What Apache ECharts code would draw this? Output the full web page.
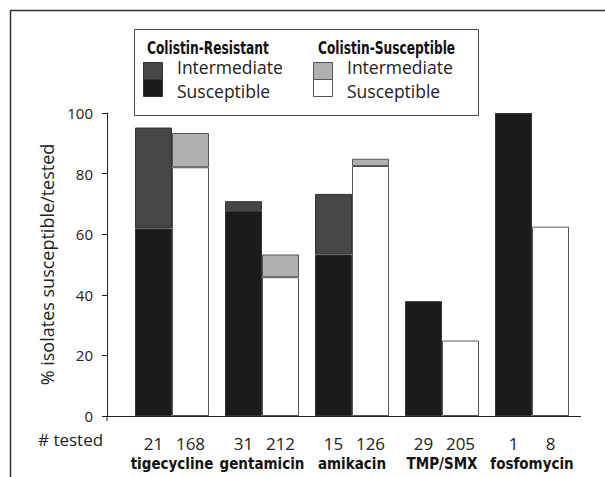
<!DOCTYPE html>
<html>
<head>
<meta charset="utf-8">
<script src="https://cdn.jsdelivr.net/npm/echarts@6/dist/echarts.min.js"></script>
<style>
html,body{margin:0;padding:0;background:#fff;}
#chart{width:605px;height:477px;}
</style>
</head>
<body>
<div id="chart"></div>
<script>
const categories = ['tigecycline', 'gentamicin', 'amikacin', 'TMP/SMX', 'fosfomycin'];
const testedResistant = [21, 31, 15, 29, 1];
const testedSusceptible = [168, 212, 126, 205, 8];
const crSusceptible = [61.9, 67.7, 53.3, 37.9, 100];
const crIntermediate = [33.3, 3.2, 20.0, 0, 0];
const csSusceptible = [82.1, 45.8, 82.5, 24.9, 62.5];
const csIntermediate = [11.3, 7.5, 2.4, 0, 0];
const yTicks = [0, 20, 40, 60, 80, 100];

const REG = "'Open Sans', 'Noto Sans', sans-serif";
const COND = "'Liberation Sans Narrow', 'DejaVu Sans Condensed', 'Open Sans', sans-serif";

const C_CR_S = '#1b1b1b', C_CR_I = '#464646', C_CS_I = '#b0b0b0', C_CS_S = '#ffffff';

const chart = echarts.init(document.getElementById('chart'), null, {renderer: 'svg'});

function barSeries(name, stack, data, color, border) {
  return {
    name: name, type: 'bar', stack: stack, data: data.map(v => v === 0 ? null : v),
    barWidth: 37, barGap: '0%',
    itemStyle: {color: color, borderColor: border, borderWidth: 1},
    emphasis: {disabled: true}, silent: true
  };
}

chart.setOption({
  animation: false,
  grid: {left: 127, right: 28, top: 113, bottom: 61},
  xAxis: {
    type: 'category', data: categories,
    axisLine: {lineStyle: {color: '#222', width: 1}},
    axisTick: {show: false},
    axisLabel: {
      interval: 0, margin: 17, color: '#222',
      formatter: (v, i) => '{a|' + testedResistant[i] + '}{c|' + testedSusceptible[i] + '}\n{b|' + v + '}',
      rich: {
        a: {width: 37, align: 'center', fontSize: 17, fontFamily: REG, color: '#222', lineHeight: 21},
        c: {width: 37, align: 'center', fontSize: 17, fontFamily: REG, color: '#222', lineHeight: 21},
        b: {fontSize: 15, fontWeight: 'bold', fontFamily: COND, color: '#111', lineHeight: 20}
      }
    }
  },
  yAxis: {
    type: 'value', min: yTicks[0], max: yTicks[yTicks.length - 1], interval: 20,
    offset: 20,
    splitLine: {show: false},
    axisLine: {show: true, lineStyle: {color: '#222', width: 1}},
    axisTick: {show: true, inside: false, length: 5, lineStyle: {color: '#222'}},
    axisLabel: {fontSize: 15, fontFamily: REG, color: '#222', margin: 14},
    name: '% isolates susceptible/tested', nameLocation: 'middle', nameGap: 39,
    nameTextStyle: {fontSize: 18, fontFamily: REG, color: '#222'}
  },
  series: [
    barSeries('Colistin-Resistant Susceptible', 'cr', crSusceptible, C_CR_S, '#333'),
    barSeries('Colistin-Resistant Intermediate', 'cr', crIntermediate, C_CR_I, '#333'),
    barSeries('Colistin-Susceptible Susceptible', 'cs', csSusceptible, C_CS_S, '#555'),
    barSeries('Colistin-Susceptible Intermediate', 'cs', csIntermediate, C_CS_I, '#555')
  ],
  graphic: [
    {type: 'line', shape: {x1: 10, y1: 10.5, x2: 605, y2: 10.5}, style: {stroke: '#333', lineWidth: 1.5}, silent: true},
    {type: 'line', shape: {x1: 10.5, y1: 10, x2: 10.5, y2: 477}, style: {stroke: '#333', lineWidth: 1.5}, silent: true},
    {type: 'line', shape: {x1: 107, y1: 416.5, x2: 127, y2: 416.5}, style: {stroke: '#222', lineWidth: 1}, silent: true},
    {type: 'line', shape: {x1: 577, y1: 416.5, x2: 581, y2: 416.5}, style: {stroke: '#222', lineWidth: 1}, silent: true},
    {type: 'line', shape: {x1: 107, y1: 416, x2: 107, y2: 421}, style: {stroke: '#222', lineWidth: 1}, silent: true},
    {type: 'text', left: 38, top: 431, style: {text: '# tested', fontSize: 17, fontFamily: REG, fill: '#222'}, silent: true},
    {type: 'rect', shape: {x: 134.5, y: 29.5, width: 344, height: 86}, style: {fill: '#fff', stroke: '#444', lineWidth: 1}, silent: true},
    {type: 'text', x: 147, y: 39, scaleX: 0.755, style: {text: 'Colistin-Resistant', fontSize: 18, fontWeight: 'bold', fontFamily: COND, fill: '#111'}, silent: true},
    {type: 'text', x: 318, y: 39, scaleX: 0.755, style: {text: 'Colistin-Susceptible', fontSize: 18, fontWeight: 'bold', fontFamily: COND, fill: '#111'}, silent: true},
    {type: 'rect', shape: {x: 143.5, y: 62.5, width: 19, height: 17}, style: {fill: C_CR_I, stroke: '#333', lineWidth: 1}, silent: true},
    {type: 'rect', shape: {x: 143.5, y: 79.5, width: 19, height: 17}, style: {fill: C_CR_S, stroke: '#333', lineWidth: 1}, silent: true},
    {type: 'rect', shape: {x: 313.5, y: 62.5, width: 19, height: 17}, style: {fill: C_CS_I, stroke: '#555', lineWidth: 1}, silent: true},
    {type: 'rect', shape: {x: 313.5, y: 79.5, width: 19, height: 17}, style: {fill: C_CS_S, stroke: '#555', lineWidth: 1}, silent: true},
    {type: 'text', x: 177, y: 58, style: {text: 'Intermediate', fontSize: 17.5, fontFamily: REG, fill: '#222'}, silent: true},
    {type: 'text', x: 177, y: 82, style: {text: 'Susceptible', fontSize: 17.5, fontFamily: REG, fill: '#222'}, silent: true},
    {type: 'text', x: 347, y: 58, style: {text: 'Intermediate', fontSize: 17.5, fontFamily: REG, fill: '#222'}, silent: true},
    {type: 'text', x: 347, y: 82, style: {text: 'Susceptible', fontSize: 17.5, fontFamily: REG, fill: '#222'}, silent: true}
  ]
});
</script>
</body>
</html>
